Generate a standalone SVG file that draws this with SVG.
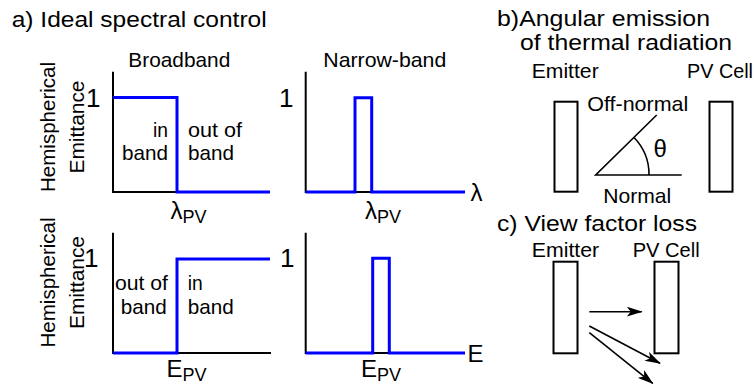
<svg xmlns="http://www.w3.org/2000/svg" width="756" height="385" viewBox="0 0 756 385">
<style>
text{font-family:"Liberation Sans",Arial,sans-serif;fill:#000}
.t{font-size:22.5px}
.l{font-size:21px}
.n{font-size:24px}
.o{font-size:26px}
.s{font-size:18px}
.ax{stroke:#000;stroke-width:2;fill:none}
.bl{stroke:#0000ff;stroke-width:3;fill:none;stroke-linejoin:miter}
.bx{stroke:#000;stroke-width:2;fill:none}
.ln{stroke:#000;stroke-width:1.6;fill:none}
</style>
<defs>
<marker id="ah" markerUnits="userSpaceOnUse" markerWidth="16" markerHeight="10" refX="15" refY="5" orient="auto">
<path d="M0,0 L16,5 L0,10 L4,5 z" fill="#000"/>
</marker>
</defs>
<rect width="756" height="385" fill="#fff"/>

<g id="titles">
<text class="t" x="11.7" y="27" textLength="255" lengthAdjust="spacingAndGlyphs">a) Ideal spectral control</text>
<text class="t" x="497" y="26" textLength="213" lengthAdjust="spacingAndGlyphs">b)Angular emission</text>
<text class="t" x="520" y="50" textLength="212" lengthAdjust="spacingAndGlyphs">of thermal radiation</text>
<text class="t" x="497" y="231" textLength="200" lengthAdjust="spacingAndGlyphs">c) View factor loss</text>
</g>

<g id="plot-broadband">
<text class="l" x="128.3" y="67" textLength="102" lengthAdjust="spacingAndGlyphs">Broadband</text>
<text class="l" transform="translate(55,192) rotate(-90)" textLength="130" lengthAdjust="spacingAndGlyphs">Hemispherical</text>
<text class="l" transform="translate(84,173.5) rotate(-90)" textLength="93" lengthAdjust="spacingAndGlyphs">Emittance</text>
<text class="o" x="86" y="107">1</text>
<path class="ax" d="M113,71.7 V192 H177"/>
<path class="bl" d="M113,97.5 H177 V192 H270"/>
<text class="l" x="153" y="137" textLength="15" lengthAdjust="spacingAndGlyphs">in</text>
<text class="l" x="122" y="160" textLength="46" lengthAdjust="spacingAndGlyphs">band</text>
<text class="l" x="188" y="137" textLength="54" lengthAdjust="spacingAndGlyphs">out of</text>
<text class="l" x="188" y="160" textLength="46" lengthAdjust="spacingAndGlyphs">band</text>
<text class="n" x="170.5" y="218.5">λ<tspan class="s" dy="4">PV</tspan></text>
</g>

<g id="plot-narrowband">
<text class="l" x="323.3" y="67" textLength="123" lengthAdjust="spacingAndGlyphs">Narrow-band</text>
<text class="o" x="279" y="107">1</text>
<path class="ax" d="M305.7,71.7 V192 H465"/>
<path class="bl" d="M305.7,192 H355 V97.7 H371.7 V192 H465"/>
<text class="n" x="470.5" y="201">λ</text>
<text class="n" x="365" y="218.5">λ<tspan class="s" dy="4">PV</tspan></text>
</g>

<g id="plot-energy-broadband">
<text class="l" transform="translate(55,347.5) rotate(-90)" textLength="130" lengthAdjust="spacingAndGlyphs">Hemispherical</text>
<text class="l" transform="translate(84,329) rotate(-90)" textLength="93" lengthAdjust="spacingAndGlyphs">Emittance</text>
<text class="o" x="84" y="267">1</text>
<path class="ax" d="M113,232.7 V353 H271"/>
<path class="bl" d="M113,353 H177 V259 H270"/>
<text class="l" x="115" y="290" textLength="53" lengthAdjust="spacingAndGlyphs">out of</text>
<text class="l" x="120.7" y="314" textLength="46" lengthAdjust="spacingAndGlyphs">band</text>
<text class="l" x="187.7" y="290" textLength="15" lengthAdjust="spacingAndGlyphs">in</text>
<text class="l" x="187.7" y="314" textLength="46" lengthAdjust="spacingAndGlyphs">band</text>
<text class="n" x="166.5" y="376.5">E<tspan class="s" dy="4">PV</tspan></text>
</g>

<g id="plot-energy-narrowband">
<text class="o" x="280" y="267">1</text>
<path class="ax" d="M305.7,232.7 V353 H465"/>
<path class="bl" d="M305.7,353 H372.7 V258.3 H389.3 V353 H465"/>
<text class="n" x="467.5" y="362">E</text>
<text class="n" x="361" y="376.5">E<tspan class="s" dy="4">PV</tspan></text>
</g>

<g id="angular-emitter">
<text class="l" x="531.7" y="77.5" textLength="67" lengthAdjust="spacingAndGlyphs">Emitter</text>
<rect class="bx" x="554.5" y="101.7" width="23" height="90"/>
</g>
<g id="angular-pvcell">
<text class="l" x="687" y="77.5" textLength="66" lengthAdjust="spacingAndGlyphs">PV Cell</text>
<rect class="bx" x="709.5" y="101.7" width="23" height="90"/>
</g>
<g id="angle">
<path class="ln" d="M656.7,115 L595.7,175 H681.7"/>
<path class="ln" d="M634,137.5 A53,53 0 0 1 649,175"/>
<text class="l" x="587.3" y="110.5" textLength="101" lengthAdjust="spacingAndGlyphs">Off-normal</text>
<text class="n" x="653.5" y="157">θ</text>
<text class="l" x="603.3" y="202.5" textLength="68" lengthAdjust="spacingAndGlyphs">Normal</text>
</g>

<g id="vf-emitter">
<text class="l" x="531.7" y="256.5" textLength="67.5" lengthAdjust="spacingAndGlyphs">Emitter</text>
<rect class="bx" x="553.5" y="261.7" width="24" height="91.6"/>
</g>
<g id="vf-pvcell">
<text class="l" x="632.7" y="256.5" textLength="67" lengthAdjust="spacingAndGlyphs">PV Cell</text>
<rect class="bx" x="654.5" y="261.7" width="24" height="91.6"/>
</g>
<g id="connectors">
<line class="ln" x1="589.3" y1="311.7" x2="641.7" y2="311.7" marker-end="url(#ah)"/>
<line class="ln" x1="589.3" y1="326" x2="660" y2="363.3" marker-end="url(#ah)"/>
<line class="ln" x1="589.3" y1="332.7" x2="652.7" y2="383.3" marker-end="url(#ah)"/>
</g>
</svg>
